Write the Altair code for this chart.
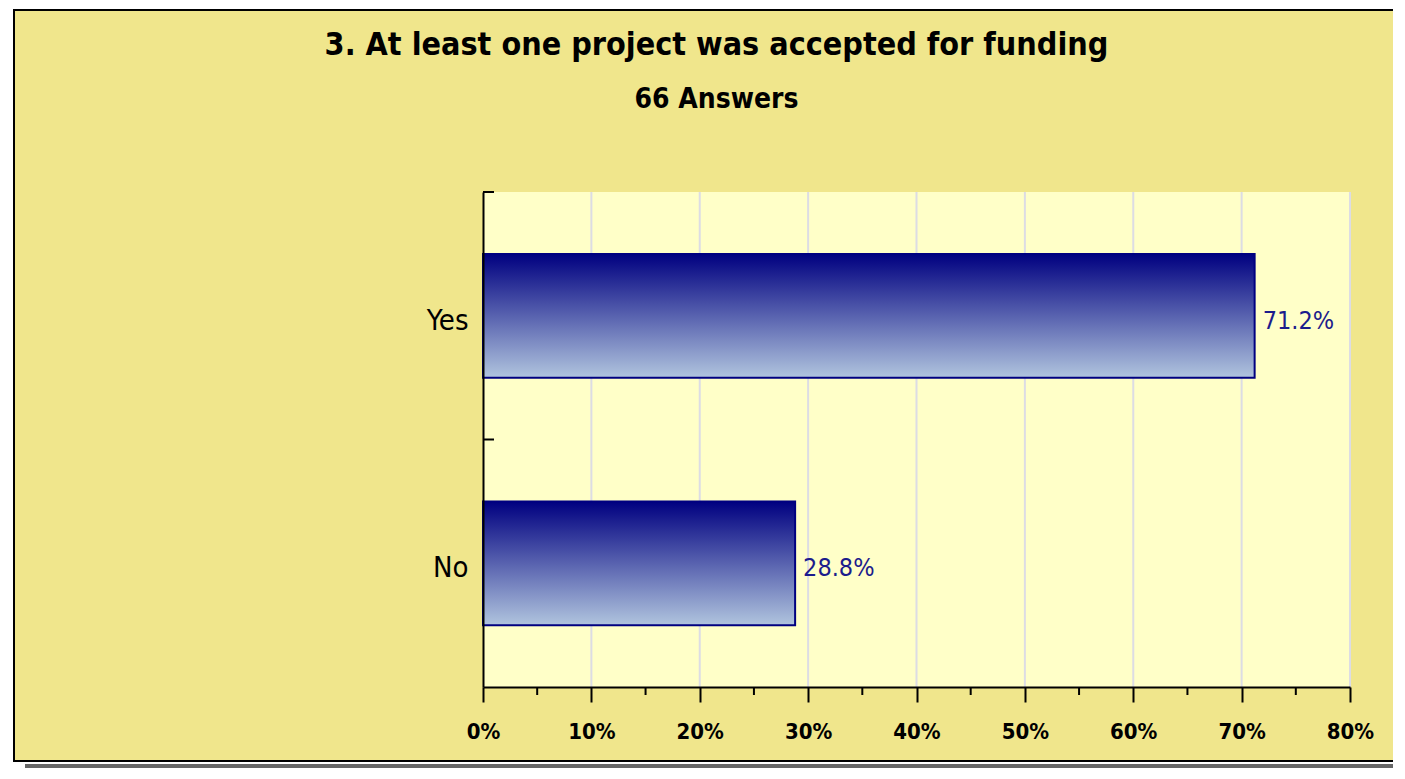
import altair as alt
import pandas as pd

# ---- data ----
categories = ["Yes", "No"]
percentages = [71.2, 28.8]
value_labels = ["71.2%", "28.8%"]
major_ticks = [0, 10, 20, 30, 40, 50, 60, 70, 80]
minor_ticks = [5, 15, 25, 35, 45, 55, 65, 75]
grid_values = [10, 20, 30, 40, 50, 60, 70, 80]
title_text = "3. At least one project was accepted for funding"
subtitle_text = "66 Answers"

FONT = "DejaVu Sans Condensed, DejaVu Sans, sans-serif"
KHAKI = "#F0E68C"
PLOT_BG = "#FFFFC8"
NAVY = "#000080"

W, H = 867, 495

df = pd.DataFrame({"answer": categories, "pct": percentages, "label": value_labels})
df_grid = pd.DataFrame({"v": grid_values})
df_minor = pd.DataFrame({"v": minor_ticks})
one = pd.DataFrame({"k": [0]})

x_scale = alt.Scale(domain=[0, 80], nice=False, zero=True)
y_scale = alt.Scale(domain=categories, paddingInner=0, paddingOuter=0)

x_axis = alt.Axis(
    values=major_ticks, labelExpr="datum.value + '%'", title=None, grid=False,
    domainColor="black", domainWidth=2, tickColor="black", tickWidth=2, tickSize=15,
    labelFont=FONT, labelFontSize=22, labelFontWeight="bold", labelColor="black",
    labelPadding=19, zindex=1, labelFlush=False, labelOverlap=False,
)
y_axis = alt.Axis(
    title=None, grid=False, ticks=False, tickSize=0,
    domainColor="black", domainWidth=2, labelOffset=5,
    labelFont=FONT, labelFontSize=29, labelColor="black", labelPadding=15, zindex=1,
)

X = alt.X("pct:Q", scale=x_scale, axis=x_axis)
Y = alt.Y("answer:N", scale=y_scale, sort=categories, axis=y_axis)

shadow = alt.Chart(one).mark_rect(color="#666666").encode(
    x=alt.value(-458), x2=alt.value(1000), y=alt.value(572), y2=alt.value(620)
)
frame = alt.Chart(one).mark_rect(fill=KHAKI, stroke="black", strokeWidth=2).encode(
    x=alt.value(-469), x2=alt.value(1000), y=alt.value(-182), y2=alt.value(569)
)
plot_bg = alt.Chart(one).mark_rect(color=PLOT_BG).encode(
    x=alt.value(0), x2=alt.value(W), y=alt.value(0), y2=alt.value(H)
)
grid = alt.Chart(df_grid).mark_rule(color="#DCDCE4", strokeWidth=2).encode(
    x=alt.X("v:Q", scale=x_scale, axis=x_axis), y=alt.value(0), y2=alt.value(H)
)

gradient = alt.Gradient(
    gradient="linear", x1=0, y1=0, x2=0, y2=1,
    stops=[alt.GradientStop(color=NAVY, offset=0),
           alt.GradientStop(color="#B0C4DE", offset=1)],
)
bars = alt.Chart(df).mark_bar(
    height={"band": 0.5}, color=gradient, stroke=NAVY, strokeWidth=2
).encode(x=X, y=Y)

labels = alt.Chart(df).mark_text(
    align="left", baseline="middle", dx=8, dy=5, font=FONT, fontSize=25, color="#1C1C8C"
).encode(x=X, y=Y, text="label:N")

y_ticks = alt.Chart(df).mark_rule(color="black", strokeWidth=2).encode(
    y=alt.Y("answer:N", scale=y_scale, sort=categories, axis=y_axis, bandPosition=0),
    x=alt.value(0), x2=alt.value(11),
)
minor = alt.Chart(df_minor).mark_rule(color="black", strokeWidth=2).encode(
    x=alt.X("v:Q", scale=x_scale, axis=x_axis), y=alt.value(H), y2=alt.value(H + 8)
)

chart = alt.layer(shadow, frame, plot_bg, grid, bars, labels, y_ticks, minor).properties(
    width=W, height=H,
    autosize=alt.AutoSizeParams(type="none"),
    padding={"left": 475, "top": 184, "right": 43, "bottom": 81},
    background="white",
    title=alt.Title(
        text=title_text, subtitle=subtitle_text, anchor="middle", dx=-200,
        font=FONT, fontSize=32, fontWeight="bold", color="black",
        subtitleFont=FONT, subtitleFontSize=28, subtitleFontWeight="bold",
        subtitleColor="black", subtitlePadding=24, offset=-106,
    ),
).configure_view(stroke=None)

chart.save("out.html", embed_options={"renderer": "svg", "actions": False})
